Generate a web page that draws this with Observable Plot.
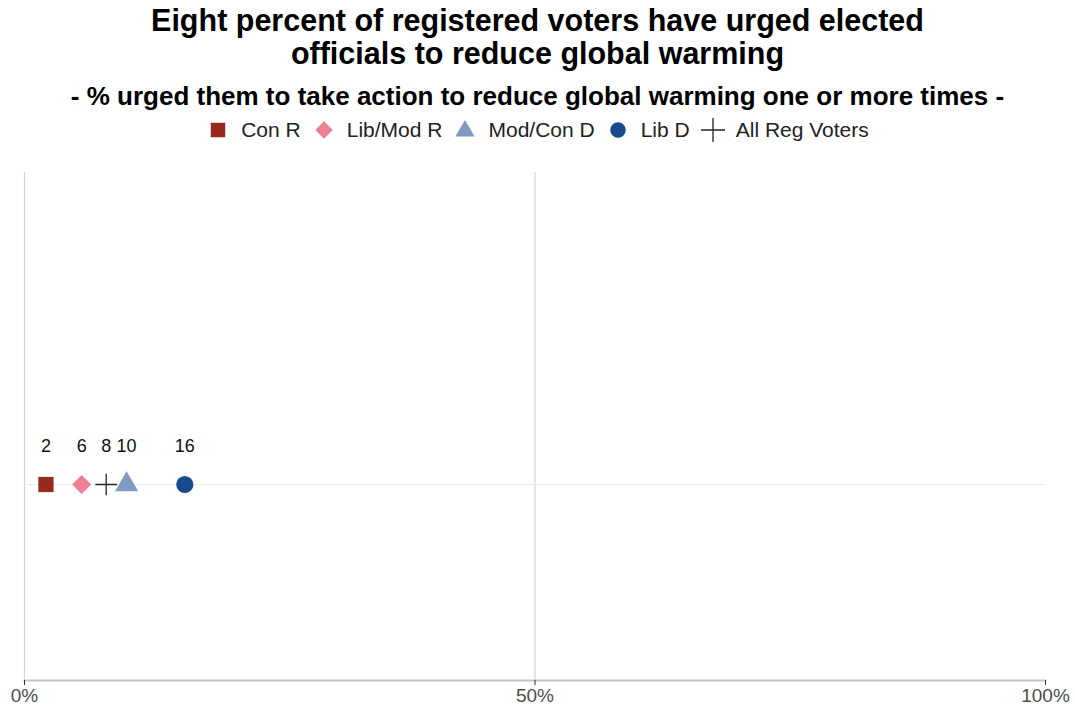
<!DOCTYPE html>
<html><head><meta charset="utf-8">
<script src="https://cdn.jsdelivr.net/npm/d3@7"></script>
<script src="https://cdn.jsdelivr.net/npm/@observablehq/plot@0.6"></script>
<style>
body{margin:0;background:#fff;font-family:"Liberation Sans",Arial,Helvetica,sans-serif;}
#wrap{position:relative;width:1075px;height:715px;overflow:hidden;}
#title{position:absolute;top:4px;left:0;width:1075px;text-align:center;font-weight:bold;font-size:30.5px;line-height:33px;color:#000;}
#subtitle{position:absolute;top:81px;left:0;width:1075px;text-align:center;font-weight:bold;font-size:26px;line-height:30px;color:#000;}
#legend{position:absolute;top:117px;left:0;width:1075px;height:26px;display:flex;justify-content:center;align-items:center;font-size:21px;color:#222;}
#legend .item{display:flex;align-items:center;}
#legend .item + .item{margin-left:11px;}
#legend .item span{margin-left:11px;}
#legend svg{display:block;}
#chart{position:absolute;top:160px;left:0;}
</style></head>
<body>
<div id="wrap">
  <div id="title">Eight percent of registered voters have urged elected<br>officials to reduce global warming</div>
  <div id="subtitle">- % urged them to take action to reduce global warming one or more times -</div>
  <div id="legend"></div>
  <div id="chart"></div>
</div>
<script>
const groups = ["Con R", "Lib/Mod R", "Mod/Con D", "Lib D", "All Reg Voters"];
const values = [2.1, 5.6, 10, 15.7, 8];
const labels = ["2", "6", "10", "16", "8"];
const symbols = ["square", "diamond2", "triangle", "circle", "plus"];
const colors = ["#962a1f", "#ef8093", "#7f9bc1", "#174a8c", "#222222"];
const question = ["Urged"];
const xTicks = [0, 50, 100];
const gridX = [0, 50];

const data = groups.map((g, i) => ({group: g, value: values[i], label: labels[i], q: question[0]}));
const filled = data.filter(d => d.group !== "All Reg Voters");
const stroked = data.filter(d => d.group === "All Reg Voters");

// Legend
const d3sym = {square: d3.symbolSquare, diamond2: d3.symbolDiamond2, triangle: d3.symbolTriangle, circle: d3.symbolCircle, plus: d3.symbolPlus};
const legendSizes = {square: 210, diamond2: 190, triangle: 160, circle: 190, plus: 240};
const legend = d3.select("#legend");
groups.forEach((g, i) => {
  const item = legend.append("div").attr("class", "item");
  const svg = item.append("svg").attr("width", 24).attr("height", 24);
  const s = symbols[i];
  const p = svg.append("path")
    .attr("transform", s === "triangle" ? "translate(12,13)" : "translate(12,12)")
    .attr("d", d3.symbol(d3sym[s], legendSizes[s])());
  if (s === "plus") p.attr("fill", "none").attr("stroke", colors[i]).attr("stroke-width", 1.3);
  else p.attr("fill", colors[i]);
  item.append("span").text(g);
});

const chart = Plot.plot({
  width: 1075,
  height: 555,
  marginTop: 12,
  marginBottom: 35,
  marginLeft: 24,
  marginRight: 30,
  insetTop: 116,
  style: {fontFamily: "'Liberation Sans', Arial, sans-serif", background: "#fff"},
  x: {domain: [0, 100], ticks: xTicks, tickFormat: d => d + "%"},
  y: {type: "point", domain: question, axis: null},
  color: {domain: groups, range: colors},
  symbol: {domain: groups, range: symbols},
  marks: [
    Plot.ruleX(gridX, {stroke: "#d4d4d4", strokeWidth: 1.2}),
    Plot.ruleY(question, {y: d => d, stroke: "#ebebeb", strokeWidth: 1.2}),
    Plot.frame({anchor: "bottom", stroke: "#c4c4c4", strokeWidth: 2}),
    Plot.axisX({ticks: xTicks, tickFormat: d => d + "%", tickSize: 5, tickPadding: 3, fontSize: 19, color: "#4d4d4d", stroke: "#333", label: null}),
    Plot.dot(filled, {x: "value", y: "q", symbol: "group", fill: "group", r: 8.6}),
    Plot.dot(stroked, {x: "value", y: "q", symbol: "group", stroke: "group", r: 7, strokeWidth: 1.3}),
    Plot.text(data, {x: "value", y: "q", text: "label", dy: -38, fontSize: 18, fill: "#111"})
  ]
});
document.getElementById("chart").appendChild(chart);
</script>
</body></html>
